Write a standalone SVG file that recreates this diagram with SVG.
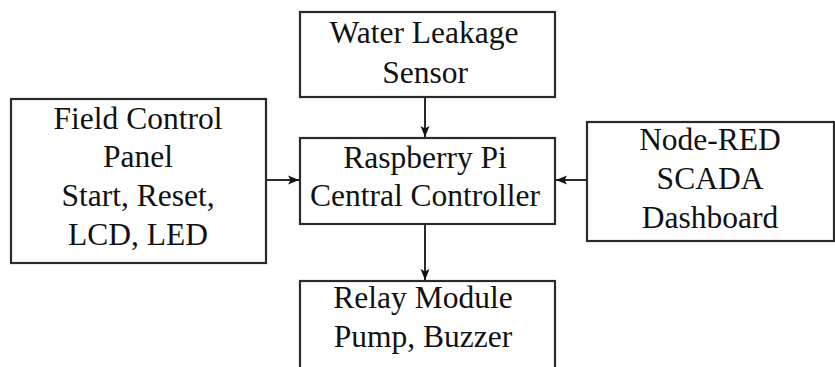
<svg xmlns="http://www.w3.org/2000/svg" width="835" height="367" viewBox="0 0 835 367">
<defs>
<style>
.box{fill:#fff;stroke:#2a2a2a;stroke-width:2.2}
.t{font-family:"Liberation Serif","Times New Roman",serif;font-size:31.5px;fill:#111;text-anchor:middle}
.c{stroke:#2a2a2a;stroke-width:2;fill:none}
</style>
<marker id="ah" viewBox="0 0 11 10" refX="11" refY="5" markerWidth="11" markerHeight="10" markerUnits="userSpaceOnUse" orient="auto">
<path d="M0,0.5 L11,5 L0,9.5 L2.5,5 Z" fill="#111"/>
</marker>
</defs>
<rect width="835" height="367" fill="#fff"/>
<g id="water">
<rect class="box" x="300" y="12" width="255" height="85"/>
<text class="t" x="424" y="43">Water Leakage</text>
<text class="t" x="425" y="83">Sensor</text>
</g>
<g id="field">
<rect class="box" x="11" y="99" width="255" height="164"/>
<text class="t" x="138" y="129">Field Control</text>
<text class="t" x="138" y="167">Panel</text>
<text class="t" x="138" y="206">Start, Reset,</text>
<text class="t" x="138" y="245">LCD, LED</text>
</g>
<g id="rpi">
<rect class="box" x="300" y="138" width="255" height="86"/>
<text class="t" x="425" y="168">Raspberry Pi</text>
<text class="t" x="425" y="206">Central Controller</text>
</g>
<g id="nodered">
<rect class="box" x="587" y="122" width="247" height="119"/>
<text class="t" x="710" y="150">Node-RED</text>
<text class="t" x="710" y="189">SCADA</text>
<text class="t" x="710" y="228">Dashboard</text>
</g>
<g id="relay">
<rect class="box" x="300" y="281" width="255" height="100"/>
<text class="t" x="423" y="308">Relay Module</text>
<text class="t" x="423" y="347">Pump, Buzzer</text>
</g>
<g id="connectors">
<line class="c" x1="425" y1="97" x2="425" y2="137" marker-end="url(#ah)"/>
<line class="c" x1="266" y1="180" x2="299" y2="180" marker-end="url(#ah)"/>
<line class="c" x1="587" y1="180" x2="556" y2="180" marker-end="url(#ah)"/>
<line class="c" x1="425" y1="224" x2="425" y2="280" marker-end="url(#ah)"/>
</g>
</svg>
